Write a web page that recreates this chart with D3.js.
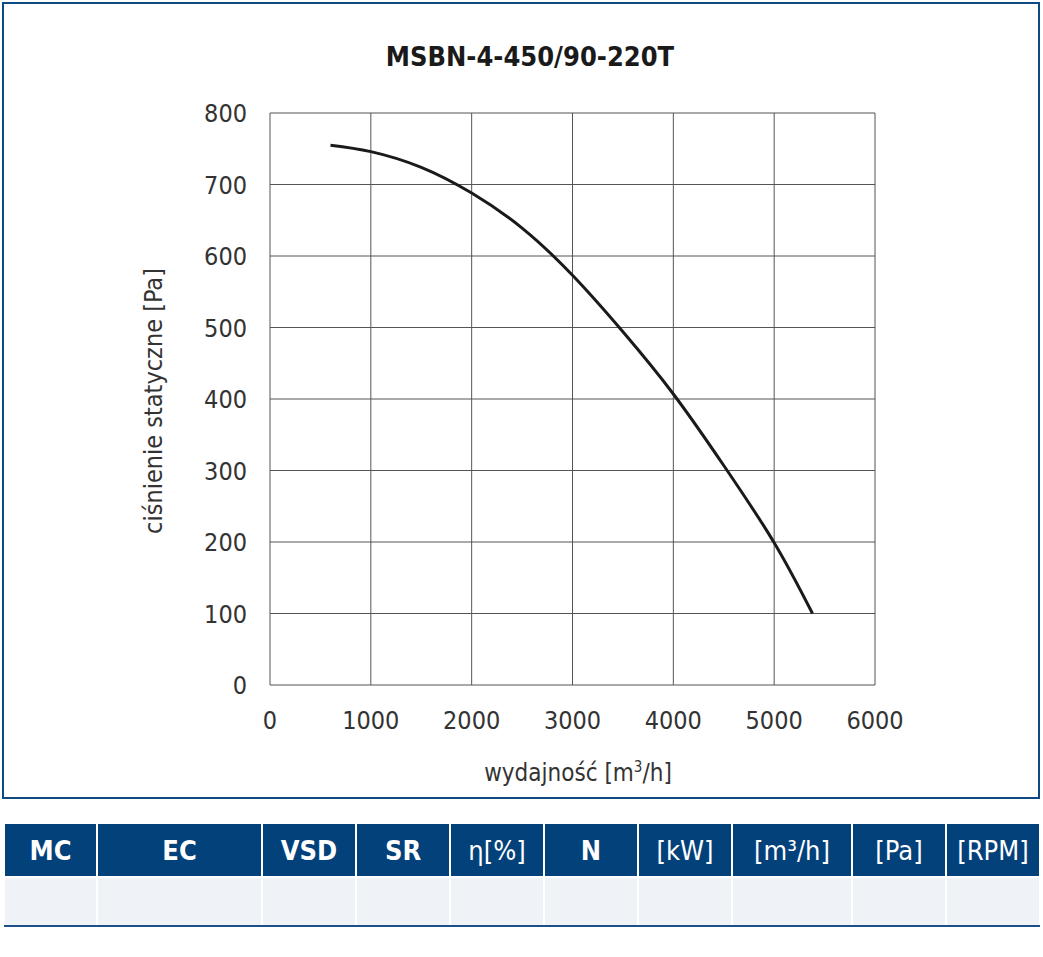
<!DOCTYPE html>
<html>
<head>
<meta charset="utf-8">
<script src="https://cdn.jsdelivr.net/npm/d3@7"></script>
<style>
  body { margin: 0; background: #fff; }
  svg text { font-family: "DejaVu Sans Condensed", "DejaVu Sans", sans-serif; font-stretch: condensed; }
</style>
</head>
<body>
<svg id="chart" width="1043" height="957"></svg>
<script>
// curve
const flow = [600, 1000, 1500, 2000, 2500, 3000, 3500, 4000, 4500, 5000, 5380]
const pressure = [755, 746, 724, 688, 639, 573, 494, 407, 307, 199, 100]
const xTicks = [0, 1000, 2000, 3000, 4000, 5000, 6000]
const yTicks = [0, 100, 200, 300, 400, 500, 600, 700, 800]
const tableHeads = ['MC', 'EC', 'VSD', 'SR', 'η[%]', 'N', '[kW]', '[m³/h]', '[Pa]', '[RPM]']
const colEdges = [4, 97, 262, 356, 450, 544, 638, 732, 852, 946, 1040]

const blue = '#03417a'
const svg = d3.select('#chart')

// outer frame
svg.append('rect')
    .attr('x', 3).attr('y', 3)
    .attr('width', 1036).attr('height', 795)
    .attr('fill', 'none')
    .attr('stroke', '#0d4a82')
    .attr('stroke-width', 2)

svg.append('text')
    .attr('x', 530).attr('y', 66)
    .attr('text-anchor', 'middle')
    .attr('font-size', 27)
    .attr('font-weight', 'bold')
    .attr('fill', '#1a1a1a')
    .text('MSBN-4-450/90-220T')

var x = d3.scaleLinear().domain([0, 6000]).range([270, 875])
var y = d3.scaleLinear().domain([0, 800]).range([685, 113])

// grid
var g = svg.append('g')
g.selectAll('.vline')
    .data(xTicks)
    .enter()
    .append('line')
    .attr('x1', d => x(d)).attr('x2', d => x(d))
    .attr('y1', y(800)).attr('y2', y(0))
    .attr('stroke', '#555')
    .attr('stroke-width', 1)
g.selectAll('.hline')
    .data(yTicks)
    .enter()
    .append('line')
    .attr('x1', x(0)).attr('x2', x(6000))
    .attr('y1', d => y(d)).attr('y2', d => y(d))
    .attr('stroke', '#555')
    .attr('stroke-width', 1)

// tick labels
g.selectAll('.xt')
    .data(xTicks)
    .enter()
    .append('text')
    .attr('x', d => x(d))
    .attr('y', 729)
    .attr('text-anchor', 'middle')
    .attr('font-size', 25)
    .attr('fill', '#333')
    .text(d => d)
g.selectAll('.yt')
    .data(yTicks)
    .enter()
    .append('text')
    .attr('x', 247)
    .attr('y', d => y(d) + 9)
    .attr('text-anchor', 'end')
    .attr('font-size', 25)
    .attr('fill', '#333')
    .text(d => d)

// axis titles
var xl = svg.append('text')
    .attr('x', 578).attr('y', 781)
    .attr('text-anchor', 'middle')
    .attr('font-size', 24)
    .attr('fill', '#333')
xl.append('tspan').text('wydajność [m')
xl.append('tspan').attr('dy', -9).attr('font-size', 15).text('3')
xl.append('tspan').attr('dy', 9).text('/h]')

svg.append('text')
    .attr('transform', 'translate(162,401) rotate(-90)')
    .attr('text-anchor', 'middle')
    .attr('font-size', 25)
    .attr('fill', '#333')
    .text('ciśnienie statyczne [Pa]')

// the fan curve
var line = d3.line()
    .x((d, i) => x(flow[i]))
    .y(d => y(d))
    .curve(d3.curveNatural)
svg.append('path')
    .datum(pressure)
    .attr('d', line)
    .attr('fill', 'none')
    .attr('stroke', '#1a1a1a')
    .attr('stroke-width', 3)

// table below
var t = svg.append('g')
var cols = tableHeads.map((h, i) => ({ h: h, x0: colEdges[i], x1: colEdges[i + 1] }))
t.selectAll('.head')
    .data(cols)
    .enter()
    .append('rect')
    .attr('x', d => d.x0 + 1)
    .attr('y', 824)
    .attr('width', d => d.x1 - d.x0 - 2)
    .attr('height', 52)
    .attr('fill', blue)
t.selectAll('.cell')
    .data(cols)
    .enter()
    .append('rect')
    .attr('x', d => d.x0 + 1)
    .attr('y', 878)
    .attr('width', d => d.x1 - d.x0 - 2)
    .attr('height', 47)
    .attr('fill', '#eff2f7')
t.append('rect')
    .attr('x', 4).attr('y', 925)
    .attr('width', 1036).attr('height', 2)
    .attr('fill', '#1d5089')
t.selectAll('.ht')
    .data(cols)
    .enter()
    .append('text')
    .attr('x', d => (d.x0 + d.x1) / 2)
    .attr('y', 860)
    .attr('text-anchor', 'middle')
    .attr('font-size', 27)
    .attr('font-weight', d => d.h.startsWith('[') || d.h.startsWith('η') ? 'normal' : 'bold')
    .attr('fill', '#fff')
    .text(d => d.h)
</script>
</body>
</html>
